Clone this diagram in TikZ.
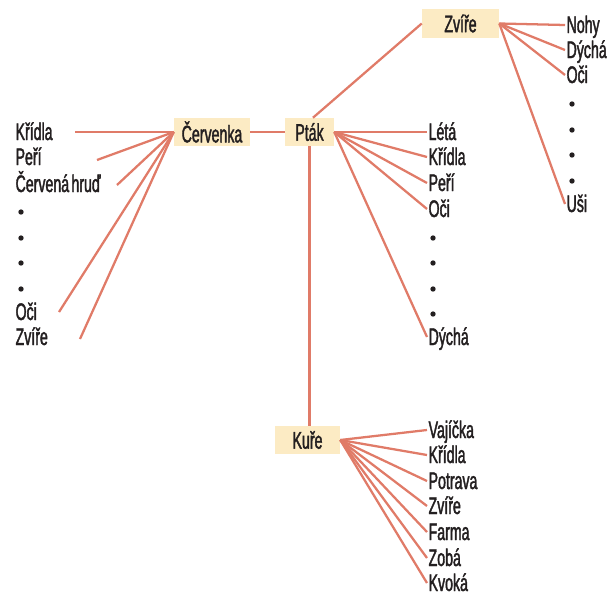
\documentclass[tikz,border=0pt]{standalone}
\usepackage{fontspec}
\setmainfont{Liberation Sans}[FakeStretch=0.59,FakeBold=1.6,WordSpace=0.6]
\definecolor{ln}{HTML}{E07B68}
\definecolor{boxfill}{HTML}{FCEBC4}
\definecolor{txt}{HTML}{231F20}
\begin{document}
\begin{tikzpicture}[x=0.75pt,y=-0.75pt,
  every node/.style={font=\fontsize{18}{20}\selectfont, text=txt},
  box/.style={fill=boxfill, inner sep=0pt, minimum height=21pt},
  item/.style={anchor=base west, inner xsep=1pt, inner ysep=0pt, text height=12pt, text depth=0pt},
  dot/.style={circle, fill=txt, inner sep=0pt, minimum size=4pt},
  link/.style={draw=ln, line width=1.7pt}]
\useasboundingbox (0,0) rectangle (616,596);

% main boxes
\node[box, minimum width=57.75pt, minimum height=21.75pt] (zv) at (460.5,23.5) {Zvíře};
\node[box, minimum width=57pt] (cer) at (212,132) {Červenka};
\node[box, minimum width=36.75pt] (pt) at (309.5,132) {Pták};
\node[box, minimum width=48.75pt] (ku) at (307.5,440) {Kuře};

\draw[link] (pt.west) -- (cer.east);
\draw[link] (pt.south) -- (pt.south |- ku.north);
\draw[link] (zv.west) -- ([xshift=2.6pt]pt.north);

% Zvíře list
\node[item] (z1) at (565,33) {Nohy};
\node[item] (z2) at (565,58) {Dýchá};
\node[item] (z3) at (565,83) {Oči};
\node[dot] (zd1) at (572,104) {};
\node[dot] (zd2) at (572,130) {};
\node[dot] (zd3) at (572,155) {};
\node[dot] (zd4) at (572,181) {};
\node[item] (z4) at (565,212) {Uši};
\foreach \n in {z1,z2,z3,z4} \draw[link] (zv.east) -- (\n.west);

% Pták list
\node[item] (p1) at (427,140) {Létá};
\node[item] (p2) at (427,165) {Křídla};
\node[item] (p3) at (427,191) {Peří};
\node[item] (p4) at (427,217) {Oči};
\node[dot] (pd1) at (433,238) {};
\node[dot] (pd2) at (433,263) {};
\node[dot] (pd3) at (433,289) {};
\node[dot] (pd4) at (433,314) {};
\node[item] (p5) at (427,345) {Dýchá};
\foreach \n in {p1,p2,p3,p4,p5} \draw[link] (pt.east) -- (\n.west);

% Červenka list
\node[item] (c1) at (14,140) {Křídla};
\node[item] (c2) at (14,165) {Peří};
\node[item] (c3) at (14,192) {Červená hruď};
\node[dot] (cd1) at (21,212) {};
\node[dot] (cd2) at (21,238) {};
\node[dot] (cd3) at (21,263) {};
\node[dot] (cd4) at (21,289) {};
\node[item] (c4) at (14,320) {Oči};
\node[item] (c5) at (14,345) {Zvíře};
\coordinate (ce1) at (75,132);
\coordinate (ce2) at (97,160);
\coordinate (ce3) at (117,185);
\coordinate (ce4) at (59,312);
\coordinate (ce5) at (80,339);
\foreach \n in {ce1,ce2,ce3,ce4,ce5} \draw[link] (cer.west) -- (\n);

% Kuře list
\node[item] (k1) at (427,438) {Vajíčka};
\node[item] (k2) at (427,463) {Křídla};
\node[item] (k3) at (427,489) {Potrava};
\node[item] (k4) at (427,514) {Zvíře};
\node[item] (k5) at (427,540) {Farma};
\node[item] (k6) at (427,566) {Zobá};
\node[item] (k7) at (427,591) {Kvoká};
\foreach \n in {k1,k2,k3,k4,k5,k6,k7} \draw[link] (ku.east) -- (\n.west);
\end{tikzpicture}
\end{document}
